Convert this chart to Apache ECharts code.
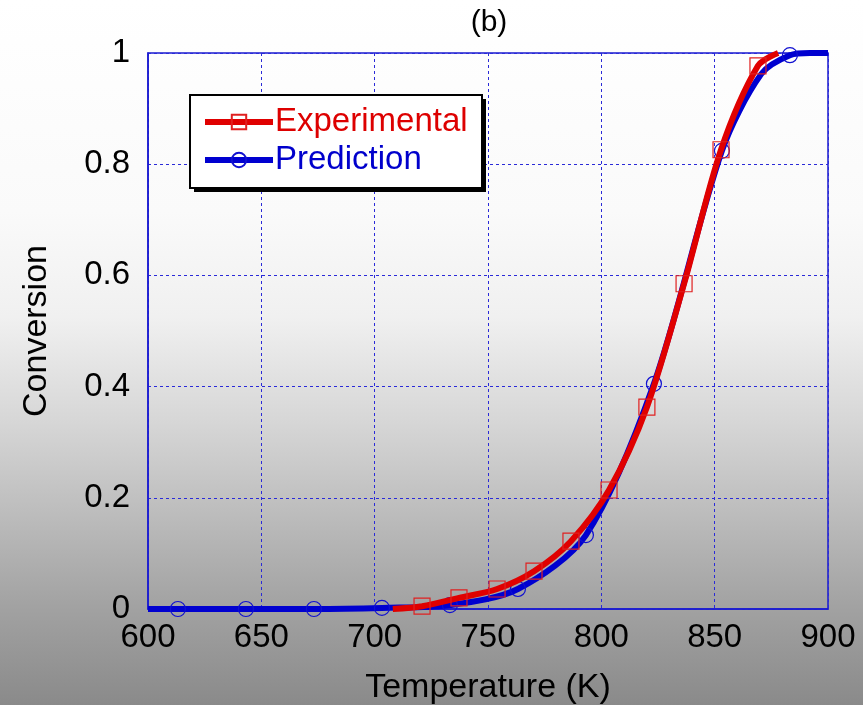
<!DOCTYPE html>
<html>
<head>
<meta charset="utf-8">
<script src="https://cdn.jsdelivr.net/npm/echarts@6/dist/echarts.min.js"></script>
<style>
html,body{margin:0;padding:0;width:863px;height:705px;overflow:hidden;}
#c{width:863px;height:705px;background:linear-gradient(to bottom,#ffffff 0%,#fafafa 30%,#f0f0f0 45%,#d6d6d6 60%,#b8b8b8 75%,#a2a2a2 86%,#8a8a8a 100%);}
</style>
</head>
<body>
<div id="c"></div>
<script>
// Experimental (markers)
var expT    = [720.9, 737.2, 754.0, 770.3, 786.6, 803.4, 820.1, 836.5, 852.8, 869.1];
var expConv = [0.005, 0.020, 0.036, 0.068, 0.122, 0.214, 0.363, 0.585, 0.826, 0.977];
// Experimental curve-only points
var expCurveT    = [708, 878];
var expCurveConv = [0.000, 1.000];
// Prediction (markers)
var predT    = [613.2, 643.2, 673.2, 703.2, 733.2, 763.2, 793.2, 823.2, 853.2, 883.2];
var predConv = [0.000, 0.000, 0.000, 0.002, 0.007, 0.036, 0.133, 0.405, 0.824, 0.996];
// Prediction curve-only points
var predCurveT    = [600, 870.5, 892, 900];
var predCurveConv = [0.000, 0.962, 1.000, 1.000];

var xTicks = [600, 650, 700, 750, 800, 850, 900];
var yTicks = [0, 0.2, 0.4, 0.6, 0.8, 1];

function build(mt, mc, ct, cc){
  var pts = [];
  for (var i=0;i<mt.length;i++) pts.push({value:[mt[i], mc[i]]});
  for (var j=0;j<ct.length;j++) pts.push({value:[ct[j], cc[j]], symbol:'none'});
  pts.sort(function(a,b){return a.value[0]-b.value[0];});
  return pts;
}

var chart = echarts.init(document.getElementById('c'), null, {renderer:'canvas'});
var font = 'Liberation Sans, Arial, sans-serif';
chart.setOption({
  animation:false,
  backgroundColor:'transparent',
  title:{text:'(b)', left:484, top:3, textAlign:'center',
    textStyle:{fontFamily:font, fontSize:30, fontWeight:'normal', color:'#000'}},
  grid:{left:148, right:35, top:53, bottom:96, show:true, borderColor:'#1a1ad0', borderWidth:1.5,
    backgroundColor:'transparent', containLabel:false, outerBoundsMode:'none'},
  graphic:[
    {type:'rect', z:1, silent:true, shape:{x:194, y:99, width:292, height:93}, style:{fill:'#000'}},
    {type:'rect', z:1, silent:true, shape:{x:190, y:95, width:292, height:93}, style:{fill:'#ffffff', stroke:'#000', lineWidth:2}}
  ],
  legend:{
    left:196, top:101, orient:'vertical', itemWidth:68, itemHeight:18, itemGap:0,
    padding:[2,6,2,6], z:5,
    lineStyle:{width:6},
    textStyle:{fontFamily:font, fontSize:33, lineHeight:38, padding:[0,0,0,-3]},
    data:[
      {name:'Experimental', textStyle:{color:'#dd0000'}},
      {name:'Prediction', textStyle:{color:'#0000cc'}}
    ]
  },
  xAxis:{
    type:'value', min:600, max:900, interval:50,
    name:'Temperature (K)', nameLocation:'middle', nameGap:62,
    nameTextStyle:{fontFamily:font, fontSize:34, color:'#000'},
    axisLine:{show:true, lineStyle:{color:'#1a1ad0', width:1.5}},
    axisTick:{show:false},
    axisLabel:{fontFamily:font, fontSize:33, color:'#000', margin:12,
      formatter:function(v){return xTicks.indexOf(v)>=0 ? String(v) : '';}},
    splitLine:{show:true, lineStyle:{color:'#2a2ad8', width:1, type:[3,3]}}
  },
  yAxis:{
    type:'value', min:0, max:1, interval:0.2,
    name:'Conversion', nameLocation:'middle', nameGap:94, nameRotate:90,
    nameTextStyle:{fontFamily:font, fontSize:34, color:'#000'},
    axisLine:{show:true, lineStyle:{color:'#1a1ad0', width:1.5}},
    axisTick:{show:false},
    axisLabel:{fontFamily:font, fontSize:33, color:'#000', margin:18,
      formatter:function(v){
        for (var k=0;k<yTicks.length;k++) if (Math.abs(yTicks[k]-v)<1e-9) return String(yTicks[k]);
        return '';
      }},
    splitLine:{show:true, lineStyle:{color:'#2a2ad8', width:1, type:[3,3]}}
  },
  series:[
    {
      name:'Experimental', type:'line', smooth:0.3,
      data: build(expT, expConv, expCurveT, expCurveConv),
      lineStyle:{color:'#e00000', width:6},
      symbol:'rect', symbolSize:16, showSymbol:true,
      itemStyle:{color:'rgba(255,255,255,0)', borderColor:'#e02020', borderWidth:1.2},
      z:3
    },
    {
      name:'Prediction', type:'line', smooth:0.3,
      data: build(predT, predConv, predCurveT, predCurveConv),
      lineStyle:{color:'#0000d0', width:6},
      symbol:'circle', symbolSize:15, showSymbol:true,
      itemStyle:{color:'rgba(255,255,255,0)', borderColor:'#1010d0', borderWidth:1.2},
      z:2
    }
  ]
});
</script>
</body>
</html>
